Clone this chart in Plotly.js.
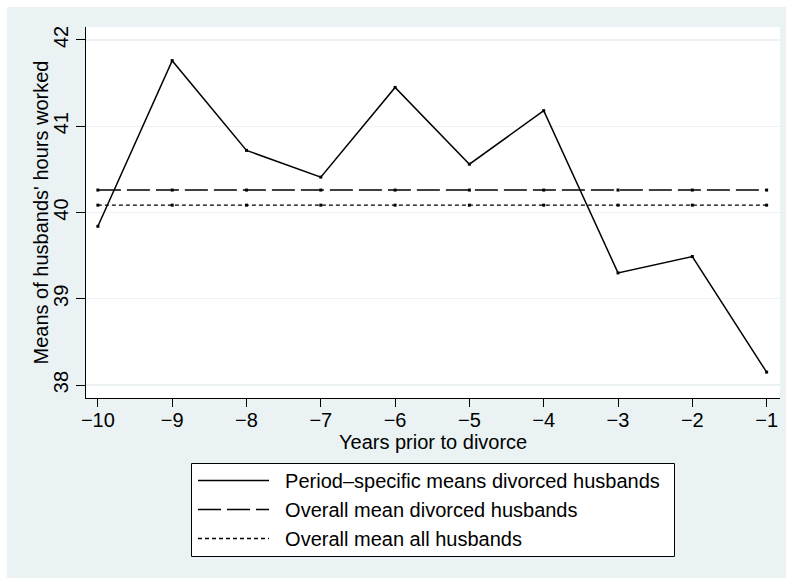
<!DOCTYPE html>
<html>
<head>
<meta charset="utf-8">
<script src="https://cdn.plot.ly/plotly-3.0.1.min.js"></script>
<style>
  html, body { margin: 0; padding: 0; background: #ffffff; }
  #chart { width: 786px; height: 578px; }
</style>
</head>
<body>
<div id="chart"></div>
<script>
var years = [-10, -9, -8, -7, -6, -5, -4, -3, -2, -1];
var periodMeans = [39.84, 41.76, 40.72, 40.41, 41.45, 40.56, 41.18, 39.30, 39.49, 38.15];
var overallDivorced = [40.26, 40.26, 40.26, 40.26, 40.26, 40.26, 40.26, 40.26, 40.26, 40.26];
var overallAll = [40.085, 40.085, 40.085, 40.085, 40.085, 40.085, 40.085, 40.085, 40.085, 40.085];
var yTicks = [38, 39, 40, 41, 42];
var seriesNames = [
  'Period\u2013specific means divorced husbands',
  'Overall mean divorced husbands',
  'Overall mean all husbands'
];
var xTitle = 'Years prior to divorce';
var yTitle = "Means of husbands' hours worked";

var FONT = 'Liberation Sans, Arial, Helvetica, sans-serif';
var BG = '#EAF2F3';
var PAD = '\u00a0\u00a0';

var seriesY = [periodMeans, overallDivorced, overallAll];
var dashes = ['solid', '23px,6px', '4px,3px'];
var widths = [1.5, 1.4, 1.3];

var traces = [];
for (var i = 0; i < 3; i++) {
  traces.push({
    x: years, y: seriesY[i], name: PAD + seriesNames[i],
    type: 'scatter', mode: 'lines',
    line: {color: '#000000', width: widths[i], dash: dashes[i]},
    legendrank: i + 1
  });
}
for (var j = 0; j < 3; j++) {
  traces.push({
    x: years, y: seriesY[j], name: seriesNames[j],
    type: 'scatter', mode: 'markers', showlegend: false,
    marker: {color: '#000000', size: 3, symbol: 'square'}
  });
}

var L = 86, T = 27, PW = 694, PH = 371;
function px2x(p) { return (p - L) / PW; }
function px2y(p) { return (T + PH - p) / PH; }

var layout = {
  width: 786, height: 578,
  margin: {l: L, r: 786 - L - PW, t: T, b: 578 - T - PH},
  paper_bgcolor: '#ffffff',
  plot_bgcolor: '#ffffff',
  font: {family: FONT, size: 20, color: '#000000'},
  showlegend: true,
  shapes: [
    {type: 'rect', xref: 'paper', yref: 'paper', layer: 'below',
     x0: px2x(7), x1: px2x(787), y0: px2y(579), y1: px2y(7),
     fillcolor: BG, line: {width: 0}},
    {type: 'rect', xref: 'paper', yref: 'paper', layer: 'below',
     x0: 0, x1: 1, y0: 0, y1: 1,
     fillcolor: '#ffffff', line: {width: 0}},
    {type: 'rect', xref: 'paper', yref: 'paper', layer: 'below',
     x0: px2x(191.5), x1: px2x(674.5), y0: px2y(556.5), y1: px2y(463.5),
     fillcolor: '#ffffff', line: {width: 1, color: '#000000'}}
  ],
  annotations: [
    {text: xTitle, xref: 'paper', yref: 'paper', x: 0.5, y: px2y(442),
     xanchor: 'center', yanchor: 'middle', showarrow: false,
     font: {size: 20, color: '#000000'}},
    {text: yTitle, xref: 'paper', yref: 'paper', x: px2x(40), y: 0.5,
     xanchor: 'center', yanchor: 'middle', showarrow: false, textangle: -90,
     font: {size: 20, color: '#000000'}}
  ],
  xaxis: {
    range: [-10.16, -0.82],
    tickmode: 'array', tickvals: years,
    ticks: 'outside', ticklen: 8, tickwidth: 1, tickcolor: '#000000',
    showline: true, linecolor: '#000000', linewidth: 1, mirror: false,
    showgrid: false, zeroline: false,
    ticklabelstandoff: -4,
    tickfont: {size: 20, color: '#000000'}
  },
  yaxis: {
    range: [37.85, 42.15],
    tickmode: 'array', tickvals: yTicks,
    tickangle: -90,
    ticks: 'outside', ticklen: 9, tickwidth: 1, tickcolor: '#000000',
    showline: true, linecolor: '#000000', linewidth: 1, mirror: false,
    showgrid: true, gridcolor: BG, gridwidth: 1.2, zeroline: false,
    tickfont: {size: 20, color: '#000000'}
  },
  legend: {
    orientation: 'v',
    x: px2x(193), xanchor: 'left',
    y: px2y(461), yanchor: 'top',
    bgcolor: 'rgba(0,0,0,0)', borderwidth: 0,
    font: {size: 20, color: '#000000'},
    itemwidth: 71,
    traceorder: 'normal'
  }
};

Plotly.newPlot('chart', traces, layout, {displayModeBar: false, staticPlot: true});
</script>
</body>
</html>
